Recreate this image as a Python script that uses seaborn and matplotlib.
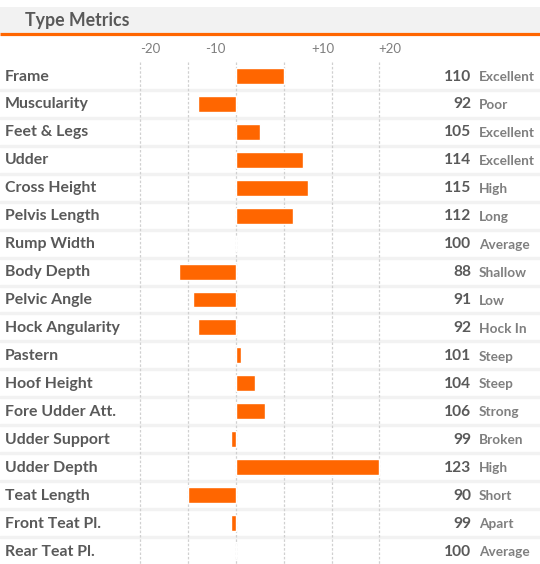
import matplotlib
matplotlib.use("Agg")
import matplotlib.pyplot as plt
import matplotlib.transforms as mtransforms
import seaborn as sns
import pandas as pd

# ---- data ----
traits = ["Frame", "Muscularity", "Feet & Legs", "Udder", "Cross Height",
          "Pelvis Length", "Rump Width", "Body Depth", "Pelvic Angle",
          "Hock Angularity", "Pastern", "Hoof Height", "Fore Udder Att.",
          "Udder Support", "Udder Depth", "Teat Length", "Front Teat Pl.",
          "Rear Teat Pl."]
scores = [110, 92, 105, 114, 115, 112, 100, 88, 91, 92, 101, 104, 106, 99,
          123, 90, 99, 100]
# bar lengths as drawn in the reference (deviation from 100)
bar_values = [10, -8, 5, 14, 15, 12, 0, -12, -9, -8, 1, 4, 6, -1, 30, -10,
              -1, 0]
descriptors = ["Excellent", "Poor", "Excellent", "Excellent", "High", "Long",
               "Average", "Shallow", "Low", "Hock In", "Steep", "Steep",
               "Strong", "Broken", "High", "Short", "Apart", "Average"]
grid_values = [-20, -10, 0, 10, 20, 30]
tick_labels = ["-20", "-10", "+10", "+20"]
tick_label_pos = [-18.0, -4.4, 18.1, 32.2]
title = "Type Metrics"

df = pd.DataFrame({"trait": traits, "bar": bar_values})

# ---- style ----
sns.set_theme(style="white")
plt.rcParams["font.family"] = ["Lato", "DejaVu Sans"]

W, H = 540, 564
fig = plt.figure(figsize=(W / 100, H / 100), dpi=100)
ax = fig.add_axes([0, 0, 1, 1])

ORANGE = "#ff6600"
DARK = "#595959"
MID = "#7f7f7f"

sns.barplot(data=df, x="bar", y="trait", orient="h", color=ORANGE,
            width=0.57, saturation=1, ax=ax, zorder=3)

# pixel mapping: x0 at px 236, 4.78 px per unit; row 0 at py 76, 27.94 px per row
px_per_unit = 4.78
x_zero = 236
row0 = 76
row_h = 27.94
ax.set_xlim(-x_zero / px_per_unit, (W - x_zero) / px_per_unit)
ax.set_ylim((H - row0) / row_h, -row0 / row_h)
ax.axis("off")

n = len(traits)
# row separators
for i in range(n - 1):
    ax.axhline(i + 0.5, color="#f2f2f2", lw=2.4, zorder=1)

# vertical gridlines
ax.vlines(grid_values, -0.5, n + 1, colors="#d0d0d0", linestyles=(0, (2, 1.5)),
          lw=0.9, zorder=2)

# tick labels
for lab, pos in zip(tick_labels, tick_label_pos):
    ax.text(pos, -0.97, lab, ha="center", va="center", fontsize=9.5,
            color=MID)

# title bar
trans_title = mtransforms.blended_transform_factory(ax.transAxes, ax.transData)
ax.add_patch(plt.Rectangle((0, -2.47), 1, 0.93, transform=trans_title,
                           facecolor="#f2f2f2", edgecolor="none", zorder=0,
                           clip_on=False))
ax.plot([0, 1], [-1.49, -1.49], transform=trans_title, color=ORANGE, lw=2.3,
        solid_capstyle="butt", zorder=4, clip_on=False)
ax.text(25 / W, -1.98, title, transform=trans_title, ha="left", va="center",
        fontsize=12.8, fontweight="bold", color=DARK)

# row labels and values
for i, (t, s, d) in enumerate(zip(traits, scores, descriptors)):
    ax.text(5 / W, i + 0.02, t, transform=trans_title, ha="left", va="center",
            fontsize=11.4, fontweight="bold", color=DARK)
    ax.text(471 / W, i + 0.02, str(s), transform=trans_title, ha="right",
            va="center", fontsize=11.2, fontweight="bold", color=DARK)
    ax.text(479 / W, i + 0.04, d, transform=trans_title, ha="left",
            va="center", fontsize=9.8, fontweight="bold", color=MID)

fig.savefig("out.png", dpi=100)
